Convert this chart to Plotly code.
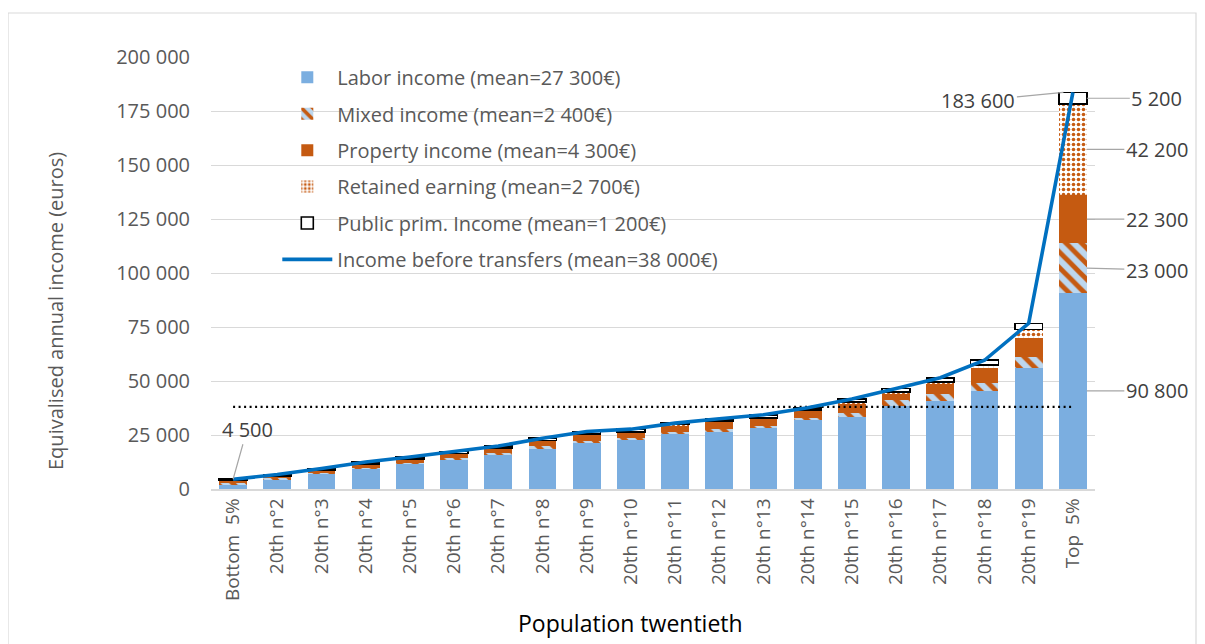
import plotly.graph_objects as go

# ---------------- data ----------------
categories = ["Bottom\u00a0 5%", "20th n°2", "20th n°3", "20th n°4", "20th n°5", "20th n°6",
              "20th n°7", "20th n°8", "20th n°9", "20th n°10", "20th n°11", "20th n°12",
              "20th n°13", "20th n°14", "20th n°15", "20th n°16", "20th n°17", "20th n°18",
              "20th n°19", "Top\u00a0 5%"]
labor = [2300, 4500, 7100, 9400, 11600, 13600, 15900, 18800, 21300, 22500,
         25600, 26300, 28200, 31800, 33500, 38200, 40700, 45400, 56000, 90800]
mixed = [500, 500, 500, 500, 500, 700, 700, 900, 1000, 1000,
         1000, 1300, 1100, 1000, 1700, 2800, 3100, 3700, 5100, 23000]
property_inc = [1000, 1000, 1100, 1700, 1800, 2000, 2200, 2600, 3000, 2800,
                3000, 3500, 3400, 3500, 4500, 3100, 4900, 6700, 8800, 22300]
retained = [100, 100, 100, 100, 100, 100, 100, 100, 100, 200,
            200, 300, 300, 300, 500, 800, 800, 1500, 3900, 42200]
public = [600, 600, 700, 800, 800, 900, 1000, 1100, 1200, 1200,
          700, 1100, 1400, 1000, 1500, 1600, 2000, 2300, 2800, 5200]
income_before = [4500, 6700, 9500, 12500, 14800, 17300, 19900, 23500, 26600, 27700,
                 30500, 32500, 34400, 37600, 41700, 46500, 51500, 59600, 76700, 183600]
mean_income = 38000

names = ["Labor income (mean=27 300€)", "Mixed income (mean=2 400€)",
         "Property income (mean=4 300€)", "Retained earning (mean=2 700€)",
         "Public prim. Income (mean=1 200€)", "Income before transfers (mean=38 000€)"]

# ---------------- styles ----------------
FONT = "Open Sans"
GREY = "#595959"
LBL = "#404040"
BLUE_BAR = "#7BAEE0"
ORANGE = "#C55A11"
LIGHTBLUE = "#BDD7EE"
LINEBLUE = "#0070C0"
BW = 0.63

fig = go.Figure()
fig.add_trace(go.Bar(x=categories, y=labor, name=names[0], width=BW,
                     marker=dict(color=BLUE_BAR, line=dict(width=0)),
                     legendgroup="a"))
fig.add_trace(go.Bar(x=categories, y=mixed, name=names[1], width=BW,
                     marker=dict(color=LIGHTBLUE, line=dict(width=0),
                                 pattern=dict(shape="\\", fgcolor=ORANGE, bgcolor=LIGHTBLUE,
                                              size=11, solidity=0.45, fillmode="replace")),
                     legendgroup="b"))
fig.add_trace(go.Bar(x=categories, y=property_inc, name=names[2], width=BW,
                     marker=dict(color=ORANGE, line=dict(width=0)),
                     legendgroup="c"))
fig.add_trace(go.Bar(x=categories, y=retained, name=names[3], width=BW,
                     marker=dict(color="white", line=dict(width=0),
                                 pattern=dict(shape=".", fgcolor=ORANGE, bgcolor="white",
                                              size=5, solidity=0.4, fillmode="replace")),
                     legendgroup="d"))
fig.add_trace(go.Bar(x=categories, y=public, name=names[4], width=BW,
                     marker=dict(color="white", line=dict(width=1.6, color="black")),
                     legendgroup="e"))
fig.add_trace(go.Scatter(x=categories, y=[mean_income] * len(categories), mode="lines",
                         line=dict(color="black", width=2.2, dash="2px,3.5px"),
                         showlegend=False, hoverinfo="skip"))
fig.add_trace(go.Scatter(x=categories, y=income_before, name=names[5], mode="lines",
                         line=dict(color=LINEBLUE, width=3.6), legendgroup="f"))

# ---------------- data labels ----------------
def fmt(v):
    return f"{v:,}".replace(",", " ")

ann = []
n = len(categories) - 1
ann.append(dict(x=0, y=income_before[0], xref="x", yref="y", text=fmt(income_before[0]),
                showarrow=True, arrowhead=0, arrowcolor="#A6A6A6", arrowwidth=1.2,
                ax=14, ay=-50, font=dict(family=FONT, size=20, color=LBL)))
ann.append(dict(x=n - BW / 2 + 0.1, y=income_before[n], xref="x", yref="y",
                text=fmt(income_before[n]),
                showarrow=True, arrowhead=0, arrowcolor="#A6A6A6", arrowwidth=1.2,
                ax=-85, ay=8, font=dict(family=FONT, size=20, color=LBL)))
comps = [labor[n], mixed[n], property_inc[n], retained[n], public[n]]
cum = 0
mids = []
for c in comps:
    mids.append(cum + c / 2)
    cum += c
ays = [0, 2, 0, 0, 0]
for c, m, ay in zip(comps, mids, ays):
    ann.append(dict(x=n + BW / 2, y=m, xref="x", yref="y", text=fmt(c),
                    showarrow=True, arrowhead=0, arrowcolor="#A6A6A6", arrowwidth=1.2,
                    ax=70, ay=ay, font=dict(family=FONT, size=20, color=LBL)))

ann.append(dict(x=-0.1765, y=0.412, xref="paper", yref="paper", xanchor="center",
                yanchor="middle",
                text="Equivalised annual income (euros)", showarrow=False, textangle=-90,
                font=dict(family=FONT, size=20, color=GREY)))
ann.append(dict(x=0.475, y=-0.31, xref="paper", yref="paper", xanchor="center",
                yanchor="middle",
                text="Population twentieth", showarrow=False,
                font=dict(family=FONT, size=23, color="black")))

fig.update_layout(
    width=1205, height=644,
    margin=dict(l=203, r=118, t=49, b=163, autoexpand=False),
    paper_bgcolor="white", plot_bgcolor="white",
    barmode="stack", bargap=0.37,
    separators=". ",
    font=dict(family=FONT, size=19, color=GREY),
    showlegend=True,
    legend=dict(x=0.075, y=0.998, xanchor="left", yanchor="top",
                bgcolor="rgba(0,0,0,0)", traceorder="grouped", tracegroupgap=7.4,
                font=dict(family=FONT, size=20, color=GREY), itemwidth=50),
    annotations=ann,
    shapes=[dict(type="rect", xref="paper", yref="paper",
                 x0=(8 - 211) / 884, x1=(1196 - 211) / 884,
                 y0=(489 - 660) / 432, y1=(489 - 13) / 432,
                 line=dict(color="#D9D9D9", width=1.2), fillcolor="rgba(0,0,0,0)",
                 layer="below")],
)
fig.update_yaxes(range=[0, 200000], dtick=25000, tickformat=",", showgrid=True,
                 gridcolor="#D9D9D9", gridwidth=1.2, zeroline=False, showline=False,
                 ticklabelstandoff=20, automargin=False,
                 tickfont=dict(family=FONT, size=20, color=GREY))
fig.update_xaxes(range=[-0.5, len(categories) - 0.5], tickangle=-90, showline=True,
                 linecolor="#D9D9D9", linewidth=1.6, automargin=False,
                 tickfont=dict(family=FONT, size=19, color=GREY), ticks="")

fig.write_html("out.html")
